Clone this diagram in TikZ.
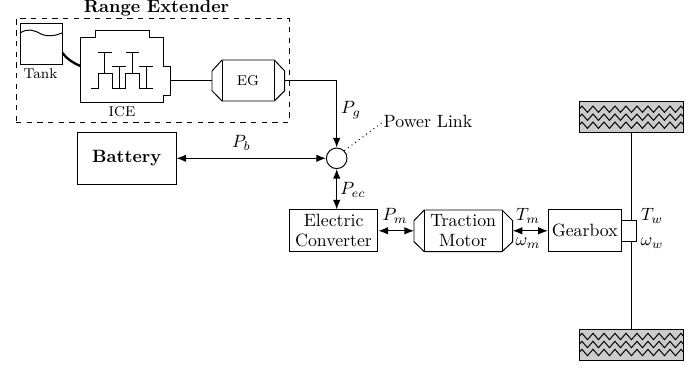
\documentclass[tikz,border=0pt]{standalone}
\usetikzlibrary{arrows.meta,decorations.pathmorphing}
\def\u{0.5618pt}
\tikzset{
  x=0.5618pt,y=-0.5618pt,
  every path/.style={line width=0.55pt},
  >={Latex[length=5.4pt,width=4.2pt]},
  blockbox/.style={draw,rectangle,inner sep=0pt,align=center},
  lbl/.style={inner sep=0pt},
  smalllbl/.style={inner sep=0pt,font=\footnotesize},
  conn/.style={<->},
  connto/.style={->},
  wheelbox/.style={blockbox,fill=black!20,minimum width=103.6*\u,minimum height=31*\u},
  wave/.style={decorate,decoration={zigzag,segment length=11*\u,amplitude=3.2*\u}},
}
\begin{document}
\begin{tikzpicture}
\useasboundingbox (0,0) rectangle (699,367);
% range extender frame
\node[draw,dashed,rectangle,inner sep=0pt,minimum width=273.5*\u,minimum height=103.5*\u] (frame) at (152.75,70.25) {};
\node[lbl,font=\bfseries] (retitle) at (156.5,8) {Range Extender};
% tank
\node[blockbox,minimum width=42*\u,minimum height=41*\u] (tank) at (41,43.5) {};
\draw (20,33) .. controls (28,28) and (34,30) .. (41,34) .. controls (48,37) and (55,36) .. (62,33);
\node[smalllbl] (tanklbl) at (40.5,73.5) {Tank};
% ICE
\draw (80.5,37.3) -- (95,37.3) -- (95,30) -- (149.7,30) -- (149.7,37.3) -- (163.7,37.3) -- (163.7,66) -- (170.7,66) -- (170.7,95.7) -- (163.7,95.7) -- (163.7,102) -- (80.5,102) -- cycle;
\coordinate (iceW) at (80.5,66);
\coordinate (iceE) at (170.7,80.7);
\draw (91.3,88) -- (98.3,88) -- (98.3,73) -- (112,73) -- (112,88) -- (125.7,88) -- (125.7,73) -- (139.3,73) -- (139.3,88) -- (153,88);
\draw (104.7,73) -- (104.7,52) (98.3,52) -- (112,52);
\draw (119,88) -- (119,66.3) (112,66.3) -- (125.7,66.3);
\draw (132.7,73) -- (132.7,52) (125.7,52) -- (139.3,52);
\draw (146,88) -- (146,66.3) (139.3,66.3) -- (153,66.3);
\node[smalllbl] (icelbl) at (122,112) {ICE};
\draw[line width=1.3pt] (tank.east |- 0,53) .. controls (67,59) and (73,63) .. (iceW);
% EG
\draw (212,71) -- (222,60) -- (274.3,60) -- (284.7,71) -- (284.7,90.7) -- (274.3,101) -- (222,101) -- (212,90.7) -- cycle;
\draw (222,60) -- (222,101) (274.3,60) -- (274.3,101);
\coordinate (egW) at (212,80.7);
\coordinate (egE) at (284.7,80.7);
\node[inner sep=0pt,font=\footnotesize] (eglbl) at (248,81) {EG};
\draw (iceE) -- (egW);
% power link
\node[draw,circle,inner sep=0pt,minimum size=20.6*\u] (link) at (336.7,158.3) {};
\node[lbl] (pllbl) at (428,121.7) {Power Link};
\draw[connto] (egE) -| (link.north);
\draw[dotted] (link.45) -- (pllbl.west);
% battery
\node[blockbox,font=\bfseries,minimum width=98.7*\u,minimum height=51.6*\u] (batt) at (126.7,158.5) {Battery};
\draw[conn] (batt.east |- link) -- (link.west);
% converter
\node[blockbox,minimum width=88.7*\u,minimum height=41.7*\u] (conv) at (333.6,230.8) {Electric\\[-1pt]Converter};
\draw[conn] (link.south) -- (link.south |- conv.north);
% traction motor
\draw (414,220.7) -- (424.3,210) -- (502,210) -- (512.7,220.7) -- (512.7,241.7) -- (502,251.7) -- (424.3,251.7) -- (414,241.7) -- cycle;
\draw (424.3,210) -- (424.3,251.7) (502,210) -- (502,251.7);
\coordinate (tmW) at (414,230.8);
\coordinate (tmE) at (512.7,230.8);
\node[lbl,align=center] (tmlbl) at (463.2,230.8) {Traction\\[-1pt]Motor};
\draw[conn] (conv.east) -- (tmW);
% gearbox
\node[blockbox,minimum width=73*\u,minimum height=41.7*\u] (gear) at (584.8,230.8) {Gearbox};
\draw[conn] (tmE) -- (gear.west);
% wheels and axle
\node[wheelbox] (wheeltop) at (631.5,117.2) {};
\node[wheelbox] (wheelbot) at (631.5,344.5) {};
\foreach \w in {wheeltop,wheelbot}{
  \foreach \d in {-8,0,8}{
    \draw[wave] ([yshift=\d*\u]\w.west) -- ([yshift=\d*\u]\w.east);
  }
}
\draw (wheeltop.south) -- (wheelbot.north);
\node[blockbox,fill=white,minimum width=15.4*\u,minimum height=21*\u] (hub) at (629,230.8) {};
% labels
\node[lbl] (pg) at (351,110) {$P_g$};
\node[lbl] (pb) at (241.5,143) {$P_b$};
\node[lbl] (pec) at (353,190) {$P_{ec}$};
\node[lbl] (pm) at (395,216) {$P_m$};
\node[lbl] (tm) at (528,216) {$T_m$};
\node[lbl] (wm) at (528,243) {$\omega_m$};
\node[lbl] (tw) at (652,216) {$T_w$};
\node[lbl] (ww) at (652,243) {$\omega_w$};
\end{tikzpicture}
\end{document}
